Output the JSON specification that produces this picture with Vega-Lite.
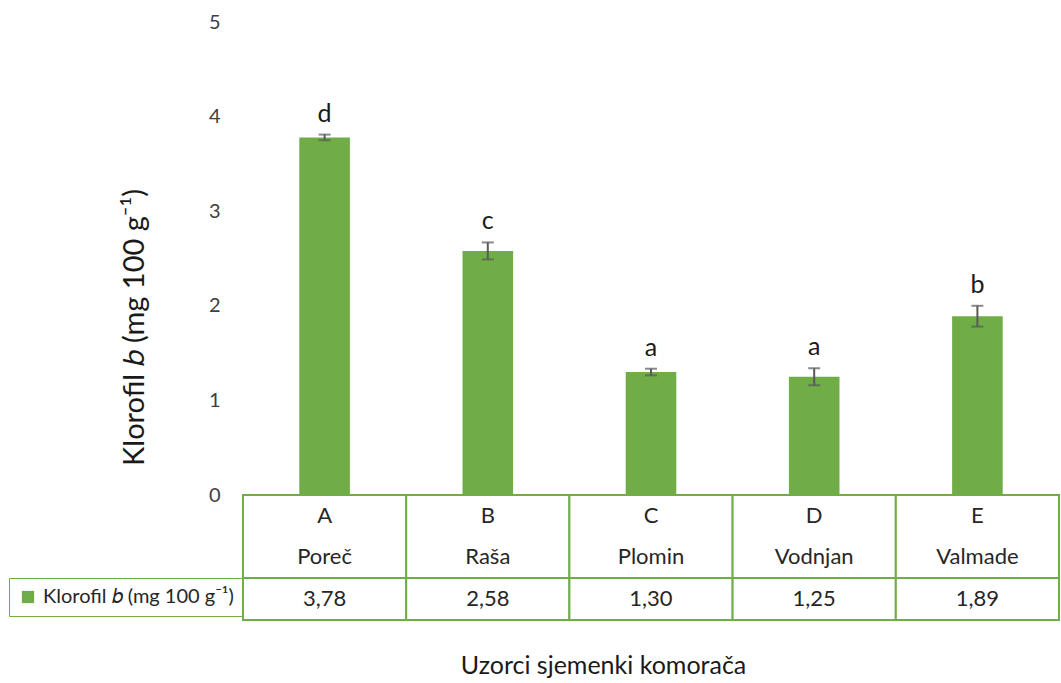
{
  "$schema": "https://vega.github.io/schema/vega-lite/v6.json",
  "padding": {"left": 8, "top": 12, "right": 0, "bottom": 0},
  "background": "white",
  "config": {
    "font": "Lato",
    "view": {"stroke": null},
    "axis": {"grid": false}
  },
  "data": {
    "values": [
      {"code": "A", "name": "Poreč", "value": 3.78, "lo": 3.75, "hi": 3.81, "letter": "d", "label": "3,78", "series": "Klorofil 𝑏 (mg 100 g⁻¹)"},
      {"code": "B", "name": "Raša", "value": 2.58, "lo": 2.49, "hi": 2.67, "letter": "c", "label": "2,58", "series": "Klorofil 𝑏 (mg 100 g⁻¹)"},
      {"code": "C", "name": "Plomin", "value": 1.30, "lo": 1.265, "hi": 1.335, "letter": "a", "label": "1,30", "series": "Klorofil 𝑏 (mg 100 g⁻¹)"},
      {"code": "D", "name": "Vodnjan", "value": 1.25, "lo": 1.16, "hi": 1.34, "letter": "a", "label": "1,25", "series": "Klorofil 𝑏 (mg 100 g⁻¹)"},
      {"code": "E", "name": "Valmade", "value": 1.89, "lo": 1.78, "hi": 2.0, "letter": "b", "label": "1,89", "series": "Klorofil 𝑏 (mg 100 g⁻¹)"}
    ]
  },
  "bounds": "flush",
  "spacing": 0,
  "resolve": {
    "scale": {"x": "independent", "y": "independent", "color": "independent"},
    "axis": {"x": "independent", "y": "independent"},
    "legend": {"color": "independent"}
  },
  "vconcat": [
    {
      "width": 816,
      "height": 473,
      "encoding": {
        "x": {"field": "code", "type": "nominal", "axis": null, "scale": {"paddingInner": 0, "paddingOuter": 0}}
      },
      "layer": [
        {
          "mark": {"type": "bar", "color": "#70AD47", "width": {"band": 0.31}},
          "encoding": {
            "y": {
              "field": "value", "type": "quantitative",
              "title": "Klorofil 𝑏 (mg 100 g⁻¹)",
              "scale": {"domain": [0, 5], "nice": false},
              "axis": {
                "values": [0, 1, 2, 3, 4, 5], "format": "d",
                "ticks": false, "domain": false, "grid": false,
                "labelFontSize": 20, "labelColor": "#404040", "labelPadding": 23,
                "titleFontSize": 29, "titleFontWeight": "normal", "titleColor": "#1a1a1a",
                "titleX": -109, "titleY": 305, "titleBaseline": "middle", "titleAlign": "center", "titleAngle": -90
              }
            }
          }
        },
        {
          "mark": {"type": "errorbar", "color": "#595959", "thickness": 2, "ticks": {"size": 12, "thickness": 2, "color": "#595959"}},
          "encoding": {
            "y": {"field": "lo", "type": "quantitative", "title": "Klorofil 𝑏 (mg 100 g⁻¹)"},
            "y2": {"field": "hi"}
          }
        },
        {
          "mark": {"type": "text", "baseline": "bottom", "dy": -8, "fontSize": 25, "color": "#1a1a1a"},
          "encoding": {
            "y": {"field": "hi", "type": "quantitative", "title": "Klorofil 𝑏 (mg 100 g⁻¹)"},
            "text": {"field": "letter"}
          }
        }
      ]
    },
    {
      "width": 816,
      "height": 83,
      "encoding": {
        "x": {"field": "code", "type": "nominal", "axis": null, "scale": {"paddingInner": 0, "paddingOuter": 0}}
      },
      "layer": [
        {
          "mark": {"type": "rect", "fill": "white", "stroke": "#70AD47", "strokeWidth": 2}
        },
        {
          "transform": [{"fold": ["code", "name"], "as": ["k", "t"]}],
          "mark": {"type": "text", "fontSize": 22, "color": "#262626"},
          "encoding": {
            "y": {"field": "k", "type": "nominal", "sort": ["code", "name"], "axis": null, "scale": {"paddingInner": 0, "paddingOuter": 0}},
            "text": {"field": "t"}
          }
        }
      ]
    },
    {
      "width": 816,
      "height": 42,
      "encoding": {
        "x": {
          "field": "code", "type": "nominal",
          "scale": {"paddingInner": 0, "paddingOuter": 0},
          "axis": {
            "labels": false, "ticks": false, "domain": false,
            "title": "Uzorci sjemenki komorača",
            "titleFontSize": 25, "titleFontWeight": "normal", "titleColor": "#1a1a1a",
            "titleX": 360, "titleY": 45, "titleBaseline": "middle", "titleAlign": "center"
          }
        }
      },
      "layer": [
        {
          "mark": {"type": "rect", "fill": "white", "stroke": "#70AD47", "strokeWidth": 2}
        },
        {
          "mark": {"type": "text", "fontSize": 22, "color": "#262626"},
          "encoding": {"text": {"field": "label"}}
        },
        {
          "mark": {"type": "square", "filled": true, "size": 0},
          "encoding": {
            "color": {
              "field": "series", "type": "nominal",
              "scale": {"range": ["#70AD47"]},
              "legend": {
                "orient": "left", "offset": 0, "title": null,
                "symbolType": "square", "symbolSize": 150, "symbolOpacity": 1,
                "labelFontSize": 20, "labelColor": "#262626", "labelLimit": 400, "labelOffset": 5,
                "strokeColor": "#70AD47", "padding": 9
              }
            }
          }
        }
      ]
    }
  ]
}
